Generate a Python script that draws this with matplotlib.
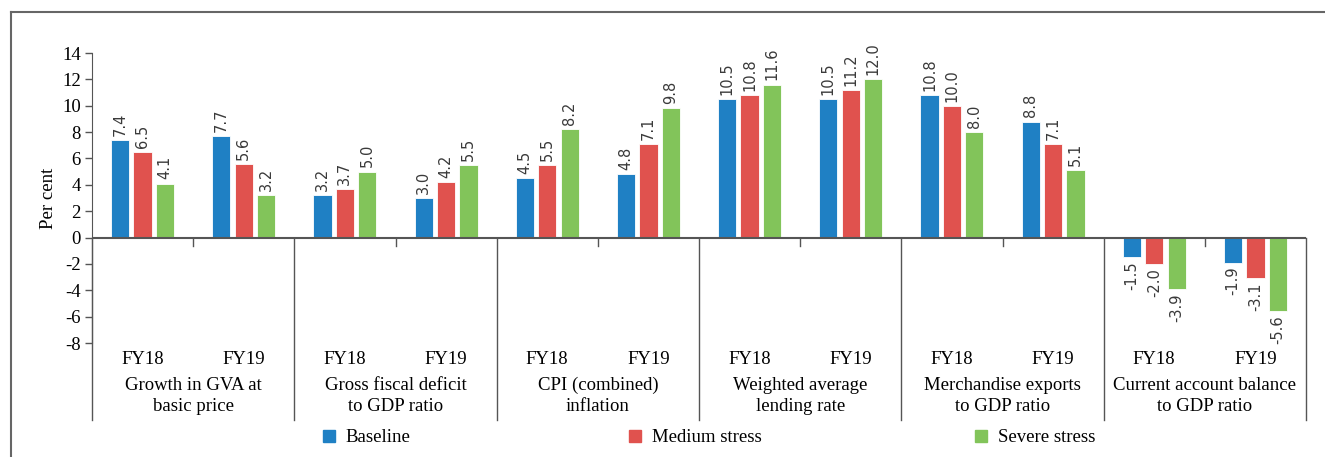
import numpy as np
import matplotlib
matplotlib.use("Agg")
import matplotlib.pyplot as plt
from matplotlib.lines import Line2D
from matplotlib.patches import Patch

categories = ["Growth in GVA at\nbasic price", "Gross fiscal deficit\nto GDP ratio",
              "CPI (combined)\ninflation", "Weighted average\nlending rate",
              "Merchandise exports\nto GDP ratio", "Current account balance\nto GDP ratio"]
years = ["FY18", "FY19"]
series = ["Baseline", "Medium stress", "Severe stress"]
colors = ["#1f80c4", "#e0524e", "#82c45a"]

# values per subgroup: (category, year) in order
baseline = [7.4, 7.7, 3.2, 3.0, 4.5, 4.8, 10.5, 10.5, 10.8, 8.8, -1.5, -1.9]
medium = [6.5, 5.6, 3.7, 4.2, 5.5, 7.1, 10.8, 11.2, 10.0, 7.1, -2.0, -3.1]
severe = [4.1, 3.2, 5.0, 5.5, 8.2, 9.8, 11.6, 12.0, 8.0, 5.1, -3.9, -5.6]

serif = "Liberation Serif"
W, H = 1325, 457
fig = plt.figure(figsize=(W / 100, H / 100), dpi=100)
ax = fig.add_axes([92 / W, 1 - 343 / H, (1306 - 92) / W, (343 - 53) / H])

n = len(baseline)
x = np.arange(n) + 0.5
bw = 0.18
step = 0.222
for k, (vals, c) in enumerate(zip([baseline, medium, severe], colors)):
    xs = x + (k - 1) * step
    ax.bar(xs, vals, bw, color=c, edgecolor="white", linewidth=0.6, zorder=2)
    for xi, v in zip(xs, vals):
        if v >= 0:
            ax.annotate(f"{v:.1f}", (xi, v), xytext=(0, 3), textcoords="offset points",
                        rotation=90, ha="center", va="bottom", fontsize=10.5,
                        family="DejaVu Sans", color="#3a3a3a")
        else:
            ax.annotate(f"{v:.1f}", (xi, v), xytext=(0, -3), textcoords="offset points",
                        rotation=90, ha="center", va="top", fontsize=10.5,
                        family="DejaVu Sans", color="#3a3a3a")

ax.set_xlim(0, n)
ax.set_ylim(-8, 14)
ax.set_yticks(np.arange(-8, 15, 2))
ax.set_yticklabels([str(t) for t in range(-8, 15, 2)], family=serif, fontsize=13.5)
ax.tick_params(axis="y", length=5, width=1, color="#555555", pad=3)
ax.set_xticks([])
for s in ["top", "right", "bottom"]:
    ax.spines[s].set_visible(False)
ax.spines["left"].set_color("#555555")
ax.set_ylabel("Per cent", family=serif, fontsize=13.5, labelpad=4)
ax.axhline(0, color="#555555", lw=1.5, zorder=3)

trans = ax.get_xaxis_transform()
y0 = 8 / 22
ybot = -77 / 290
for i in range(0, n + 1, 2):
    ax.add_line(Line2D([i, i], [y0, ybot], transform=trans, color="#555555",
                       lw=1, clip_on=False))
for i in range(1, n, 2):
    ax.add_line(Line2D([i, i], [y0, y0 - 8 / 290], transform=trans, color="#555555",
                       lw=1, clip_on=False))
for i, xi in enumerate(x):
    ax.text(xi, -17 / 290, years[i % 2], transform=trans, ha="center", va="center",
            family=serif, fontsize=13.5)
for j, cat in enumerate(categories):
    ax.text(2 * j + 1, -53 / 290, cat, transform=trans, ha="center", va="center",
            family=serif, fontsize=13.5, linespacing=1.3)

for lab, c, px in zip(series, colors, [314, 620, 966]):
    fig.legend(handles=[Patch(color=c)], labels=[lab], loc="center left",
               bbox_to_anchor=(px / W, 1 - 438 / H), frameon=False,
               handlelength=0.6, handleheight=0.6, handletextpad=0.6,
               borderpad=0, prop={"family": serif, "size": 13.5})

fig.add_artist(Line2D([11 / W, 11 / W], [0, 1 - 12 / H], color="#666666", lw=1.5))
fig.add_artist(Line2D([11 / W, 1], [1 - 12 / H, 1 - 12 / H], color="#666666", lw=1.5))

fig.savefig("out.png", dpi=100)
